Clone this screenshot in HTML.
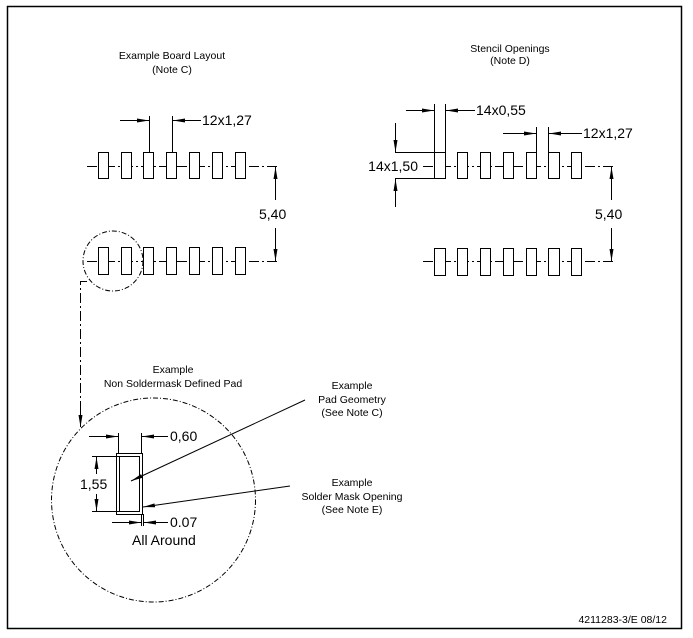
<!DOCTYPE html>
<html><head><style>
html,body{margin:0;padding:0;background:#fff;}
svg{display:block;}
text{font-family:"Liberation Sans",sans-serif;fill:#000;}
</style></head><body>
<svg width="693" height="638" viewBox="0 0 693 638" xmlns="http://www.w3.org/2000/svg">
<defs>
<marker id="ar" markerWidth="12" markerHeight="6" refX="12" refY="3" orient="auto" markerUnits="userSpaceOnUse">
<path d="M0,1 L12,3 L0,5 Z" fill="#000"/>
</marker>
</defs>
<rect x="7.5" y="6.5" width="674" height="622" fill="none" stroke="#000" stroke-width="1.5"/>
<g stroke="#000" stroke-width="1" fill="none">
<line x1="87" y1="166.5" x2="279" y2="166.5" stroke-dasharray="10,3,2,3"/>
<line x1="87" y1="261.5" x2="279" y2="261.5" stroke-dasharray="10,3,2,3"/>
<g fill="#fff">
<rect x="98.5" y="152.5" width="10" height="26"/><rect x="121.5" y="152.5" width="10" height="26"/>
<rect x="143.5" y="152.5" width="10" height="26"/><rect x="166.5" y="152.5" width="10" height="26"/>
<rect x="189.5" y="152.5" width="10" height="26"/><rect x="212.5" y="152.5" width="10" height="26"/>
<rect x="235.5" y="152.5" width="10" height="26"/>
<rect x="98.5" y="247.5" width="10" height="27"/><rect x="121.5" y="247.5" width="10" height="27"/>
<rect x="143.5" y="247.5" width="10" height="27"/><rect x="166.5" y="247.5" width="10" height="27"/>
<rect x="189.5" y="247.5" width="10" height="27"/><rect x="212.5" y="247.5" width="10" height="27"/>
<rect x="235.5" y="247.5" width="10" height="27"/>
</g>
<line x1="149.5" y1="116" x2="149.5" y2="152"/>
<line x1="172.5" y1="116" x2="172.5" y2="152"/>
<line x1="120" y1="120.5" x2="149" y2="120.5" marker-end="url(#ar)"/>
<line x1="201" y1="120.5" x2="173" y2="120.5" marker-end="url(#ar)"/>
<line x1="275.5" y1="200" x2="275.5" y2="167" marker-end="url(#ar)"/>
<line x1="275.5" y1="228" x2="275.5" y2="261" marker-end="url(#ar)"/>
<circle cx="113" cy="261" r="30" stroke-dasharray="5,2,1,2"/>
<polyline points="87,281.5 80.5,281.5 80.5,426" stroke-dasharray="10,3,2,3"/>
<line x1="80.5" y1="410" x2="80.5" y2="427" marker-end="url(#ar)"/>
<line x1="423" y1="166.5" x2="615" y2="166.5" stroke-dasharray="10,3,2,3"/>
<line x1="423" y1="261.5" x2="615" y2="261.5" stroke-dasharray="10,3,2,3"/>
<g fill="#fff">
<rect x="434.5" y="152.5" width="11" height="26"/><rect x="457.5" y="152.5" width="10" height="26"/>
<rect x="480.5" y="152.5" width="10" height="26"/><rect x="503.5" y="152.5" width="10" height="26"/>
<rect x="526.5" y="152.5" width="10" height="26"/><rect x="548.5" y="152.5" width="11" height="26"/>
<rect x="571.5" y="152.5" width="10" height="26"/>
<rect x="434.5" y="248.5" width="11" height="27"/><rect x="457.5" y="248.5" width="10" height="27"/>
<rect x="480.5" y="248.5" width="10" height="27"/><rect x="503.5" y="248.5" width="10" height="27"/>
<rect x="526.5" y="248.5" width="10" height="27"/><rect x="548.5" y="248.5" width="11" height="27"/>
<rect x="571.5" y="248.5" width="10" height="27"/>
</g>
<line x1="434.5" y1="104" x2="434.5" y2="152"/>
<line x1="445.5" y1="104" x2="445.5" y2="152"/>
<line x1="406" y1="110.5" x2="434" y2="110.5" marker-end="url(#ar)"/>
<line x1="475" y1="110.5" x2="446" y2="110.5" marker-end="url(#ar)"/>
<line x1="536.5" y1="127" x2="536.5" y2="152"/>
<line x1="548.5" y1="127" x2="548.5" y2="152"/>
<line x1="503" y1="133.5" x2="536" y2="133.5" marker-end="url(#ar)"/>
<line x1="582" y1="133.5" x2="549" y2="133.5" marker-end="url(#ar)"/>
<line x1="395" y1="152.5" x2="434" y2="152.5"/>
<line x1="395" y1="178.5" x2="434" y2="178.5"/>
<line x1="395.5" y1="123" x2="395.5" y2="152" marker-end="url(#ar)"/>
<line x1="395.5" y1="207" x2="395.5" y2="179" marker-end="url(#ar)"/>
<line x1="611.5" y1="200" x2="611.5" y2="167" marker-end="url(#ar)"/>
<line x1="611.5" y1="228" x2="611.5" y2="261" marker-end="url(#ar)"/>
<circle cx="153.5" cy="500" r="102" stroke-dasharray="5,2,1,2"/>
<rect x="116.5" y="453.5" width="26" height="61"/>
<rect x="119.5" y="456.5" width="20" height="55"/>
<line x1="118.5" y1="433" x2="118.5" y2="453"/>
<line x1="141.5" y1="433" x2="141.5" y2="453"/>
<line x1="89" y1="436.5" x2="118" y2="436.5" marker-end="url(#ar)"/>
<line x1="168" y1="436.5" x2="142" y2="436.5" marker-end="url(#ar)"/>
<line x1="92" y1="456.5" x2="119" y2="456.5"/>
<line x1="92" y1="511.5" x2="119" y2="511.5"/>
<line x1="96.5" y1="474" x2="96.5" y2="457" marker-end="url(#ar)"/>
<line x1="96.5" y1="494" x2="96.5" y2="511" marker-end="url(#ar)"/>
<line x1="141.5" y1="514" x2="141.5" y2="526"/>
<line x1="143.5" y1="514" x2="143.5" y2="526"/>
<line x1="112" y1="522.5" x2="141" y2="522.5" marker-end="url(#ar)"/>
<line x1="168" y1="522.5" x2="144" y2="522.5" marker-end="url(#ar)"/>
<line x1="305" y1="400" x2="131" y2="481" marker-end="url(#ar)"/>
<line x1="290" y1="486" x2="143" y2="507" marker-end="url(#ar)"/>
</g>
<g font-size="10.5" text-anchor="middle">
<text x="172" y="59">Example Board Layout</text>
<text x="172" y="73">(Note C)</text>
<text x="510" y="52">Stencil Openings</text>
<text x="510" y="64">(Note D)</text>
<text x="173" y="373">Example</text>
<text x="173" y="387">Non Soldermask Defined Pad</text>
<text x="352" y="389">Example</text>
<text x="352" y="403">Pad Geometry</text>
<text x="352" y="416">(See Note C)</text>
<text x="352" y="486">Example</text>
<text x="352" y="500">Solder Mask Opening</text>
<text x="352" y="513">(See Note E)</text>
</g>
<g font-size="14">
<text x="202" y="125">12x1,27</text>
<text x="259" y="219">5,40</text>
<text x="476" y="115">14x0,55</text>
<text x="583" y="138">12x1,27</text>
<text x="418" y="171" text-anchor="end">14x1,50</text>
<text x="595" y="219">5,40</text>
<text x="170" y="441">0,60</text>
<text x="80" y="489">1,55</text>
<text x="170" y="527">0.07</text>
<text x="132" y="545">All Around</text>
</g>
<text x="667" y="623" font-size="10.5" text-anchor="end">4211283-3/E  08/12</text>
</svg>
</body></html>
